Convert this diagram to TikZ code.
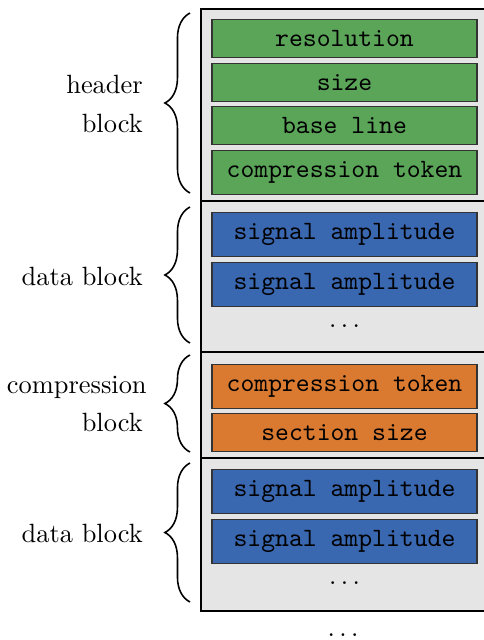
\documentclass[tikz,border=0pt]{standalone}
\usetikzlibrary{decorations.pathreplacing}

\definecolor{fieldgreen}{RGB}{91,165,89}
\definecolor{fieldblue}{RGB}{57,103,176}
\definecolor{fieldorange}{RGB}{218,122,49}
\definecolor{blockgray}{RGB}{229,229,229}

\tikzset{
  field/.style={draw=black!80, line width=0.4pt, minimum width=100.4pt,
    inner ysep=4.1pt, font=\ttfamily, anchor=north},
  hdrfield/.style={field, fill=fieldgreen},
  datfield/.style={field, fill=fieldblue},
  cmpfield/.style={field, fill=fieldorange},
  blockbox/.style={draw=black, line width=0.9pt, fill=blockgray},
  blockbrace/.style={decorate, decoration={brace, amplitude=9.5pt}, line width=0.6pt},
  blocklabel/.style={anchor=east, align=right}
}

\begin{document}
\begin{tikzpicture}[x=0.3788pt, y=-0.3788pt]
\useasboundingbox (0,0) rectangle (484,640);

% the four blocks
\draw[blockbox] (201,9) rectangle (492,201);
\draw[blockbox] (201,201) rectangle (492,352);
\draw[blockbox] (201,352) rectangle (492,458);
\draw[blockbox] (201,458) rectangle (492,611);

% header block
\node[hdrfield] (res) at (344.5,19) {resolution};
\node[hdrfield] (size) at (344.5,63) {size};
\node[hdrfield] (base) at (344.5,106) {base line};
\node[hdrfield] (ctok) at (344.5,150) {compression token};

% first data block
\node[datfield] (amp1) at (344.5,212) {signal amplitude};
\node[datfield] (amp2) at (344.5,262) {signal amplitude};
\node (dots1) at (344.5,326) {$\ldots$};

% compression block
\node[cmpfield] (ctok2) at (344.5,364) {compression token};
\node[cmpfield] (secsize) at (344.5,413) {section size};

% second data block
\node[datfield] (amp3) at (344.5,469) {signal amplitude};
\node[datfield] (amp4) at (344.5,519) {signal amplitude};
\node (dots2) at (344.5,583) {$\ldots$};

\node (more) at (343,635) {$\ldots$};

% braces and labels
\draw[blockbrace] (190,193) -- (190,13);
\node[blocklabel] (hdrlbl) at (152,104) {header\\[2.5pt]block};

\draw[blockbrace] (190,343) -- (190,207);
\node[blocklabel] (datlbl1) at (152,276) {data block};

\draw[blockbrace] (190,452) -- (190,355);
\node[blocklabel] (cmplbl) at (152,404) {compression\kern-1.5pt\\[2.5pt]block};

\draw[blockbrace] (190,602) -- (190,463);
\node[blocklabel] (datlbl2) at (152,533) {data block};
\end{tikzpicture}
\end{document}
